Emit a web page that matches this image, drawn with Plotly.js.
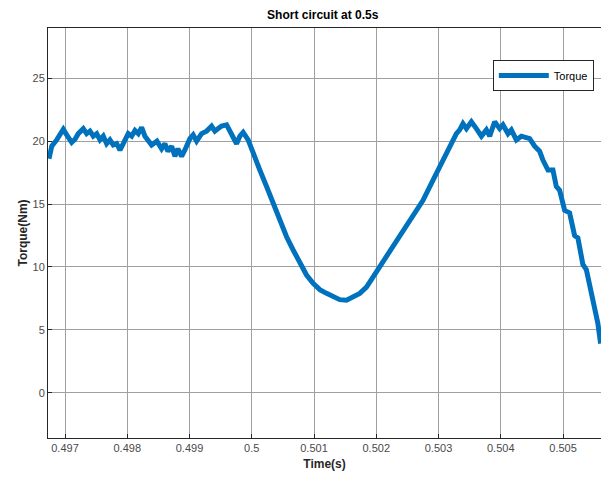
<!DOCTYPE html>
<html>
<head>
<meta charset="utf-8">
<script src="https://cdn.plot.ly/plotly-3.0.1.min.js"></script>
<style>
html,body{margin:0;padding:0;background:#fff;}
#chart{width:601px;height:477px;}
</style>
</head>
<body>
<div id="chart"></div>
<script>
const time = [
0.496743,0.496787,0.496867,0.496920,0.496973,0.497027,0.497108,0.497161,0.497213,0.497294,
0.497348,0.497401,0.497454,0.497509,0.497562,0.497615,0.497669,0.497722,0.497775,0.497830,
0.497883,0.497936,0.498016,0.498071,0.498124,0.498177,0.498231,0.498284,0.498392,0.498477,
0.498552,0.498605,0.498653,0.498713,0.498766,0.498814,0.498873,0.498926,0.499006,0.499059,
0.499114,0.499194,0.499274,0.499355,0.499408,0.499461,0.499515,0.499596,0.499676,0.499756,
0.499809,0.499862,0.499942,0.500022,0.500130,0.500238,0.500344,0.500451,0.500559,0.500665,
0.500772,0.500880,0.500986,0.501093,0.501201,0.501307,0.501414,0.501522,0.501628,0.501735,
0.501843,0.501949,0.502109,0.502270,0.502430,0.502591,0.502751,0.502912,0.503072,0.503233,
0.503287,0.503340,0.503393,0.503448,0.503528,0.503608,0.503689,0.503769,0.503822,0.503902,
0.503982,0.504035,0.504116,0.504170,0.504250,0.504331,0.504464,0.504544,0.504624,0.504677,
0.504758,0.504838,0.504892,0.504945,0.505026,0.505106,0.505186,0.505239,0.505319,0.505374,
0.505454,0.505507,0.505560,0.505604
];
const torque = [
18.6,19.6,20.1,20.5,20.95,20.5,19.9,20.15,20.6,21.0,
20.6,20.8,20.4,20.6,20.1,20.4,19.8,20.1,19.7,19.8,
19.3,19.8,20.6,20.4,20.85,20.6,21.1,20.4,19.7,20.0,
19.4,19.8,19.2,19.6,18.8,19.4,18.8,19.3,20.2,20.5,
20.0,20.6,20.8,21.2,20.8,21.0,21.2,21.3,20.6,19.8,
20.4,20.7,20.1,19.0,17.7,16.4,15.1,13.7,12.4,11.35,
10.3,9.36,8.7,8.2,7.9,7.6,7.4,7.35,7.6,7.9,
8.4,9.2,10.3,11.6,12.9,14.0,15.3,16.9,18.5,20.0,
20.6,20.9,21.4,21.0,21.55,21.0,20.4,20.9,20.4,21.55,
21.0,21.3,20.6,20.9,20.1,20.4,20.2,19.6,19.2,18.5,
17.7,17.7,16.4,16.1,14.5,14.3,12.5,12.3,10.2,9.8,
7.9,7.1,5.5,3.9
];
const xTickVals = [0.497,0.498,0.499,0.5,0.501,0.502,0.503,0.504,0.505];
const xTickText = ["0.497","0.498","0.499","0.5","0.501","0.502","0.503","0.504","0.505"];
const yTickVals = [0,5,10,15,20,25];
const yTickText = ["0","5","10","15","20","25"];
const seriesName = "Torque";

const trace = {
  x: time, y: torque, type: "scatter", mode: "lines", name: seriesName,
  line: {color: "#0072BD", width: 5}
};
const axisCommon = {
  showline: true, linecolor: "#262626", linewidth: 1, mirror: true,
  showgrid: true, gridcolor: "#a0a0a0", gridwidth: 1, zeroline: false,
  ticks: "inside", ticklen: 4, tickcolor: "#262626",
  tickfont: {family: "Liberation Sans, Arial, sans-serif", size: 11, color: "#4a4a4a"}
};
const layout = {
  width: 601, height: 477,
  margin: {l: 48, r: 0, t: 28, b: 39},
  paper_bgcolor: "#fff", plot_bgcolor: "#fff",
  title: {text: "<b>Short circuit at 0.5s</b>", x: 0.537, xanchor: "center", y: 0.97, yanchor: "middle",
    font: {family: "Liberation Sans, Arial, sans-serif", size: 12, color: "#000"}},
  xaxis: Object.assign({}, axisCommon, {
    range: [0.496727, 0.50561], tickmode: "array", tickvals: xTickVals, ticktext: xTickText,
    title: {text: "<b>Time(s)</b>", standoff: 6, font: {family: "Liberation Sans, Arial, sans-serif", size: 12, color: "#262626"}}
  }),
  yaxis: Object.assign({}, axisCommon, {
    range: [-3.6, 29], tickmode: "array", tickvals: yTickVals, ticktext: yTickText,
    title: {text: "<b>Torque(Nm)</b>", standoff: 2, font: {family: "Liberation Sans, Arial, sans-serif", size: 12, color: "#262626"}}
  }),
  showlegend: true,
  legend: {x: 0.987, xanchor: "right", y: 0.922, yanchor: "top", bgcolor: "#fff",
    bordercolor: "#262626", borderwidth: 1, itemwidth: 50,
    font: {family: "Liberation Sans, Arial, sans-serif", size: 11, color: "#000"}}
};
Plotly.newPlot("chart", [trace], layout, {staticPlot: true, displayModeBar: false});
</script>
</body>
</html>
